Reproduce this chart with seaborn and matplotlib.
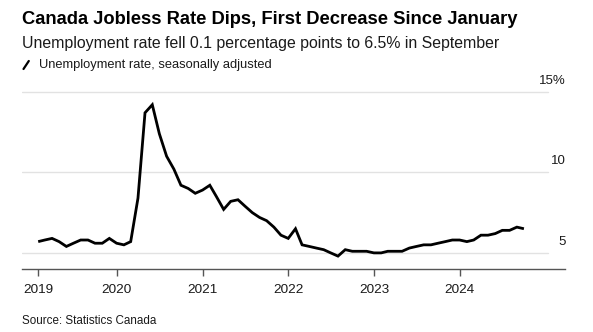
import numpy as np
import pandas as pd
import matplotlib
matplotlib.use("Agg")
import matplotlib.pyplot as plt
import matplotlib.transforms as mtransforms
from matplotlib.lines import Line2D
import seaborn as sns

# ---- data ----
rate_2019 = [5.7, 5.8, 5.9, 5.7, 5.4, 5.6, 5.8, 5.8, 5.6, 5.6, 5.9, 5.6]
rate_2020 = [5.5, 5.7, 8.4, 13.7, 14.2, 12.4, 11.0, 10.2, 9.2, 9.0, 8.7, 8.9]
rate_2021 = [9.2, 8.5, 7.7, 8.2, 8.3, 7.9, 7.5, 7.2, 7.0, 6.6, 6.1, 5.9]
rate_2022 = [6.5, 5.5, 5.4, 5.3, 5.2, 5.0, 4.8, 5.2, 5.1, 5.1, 5.1, 5.0]
rate_2023 = [5.0, 5.1, 5.1, 5.1, 5.3, 5.4, 5.5, 5.5, 5.6, 5.7, 5.8, 5.8]
rate_2024 = [5.7, 5.8, 6.1, 6.1, 6.2, 6.4, 6.4, 6.6, 6.5]
start_month = "2019-01"
year_labels = ["2019", "2020", "2021", "2022", "2023", "2024"]
y_ticks = [5, 10, 15]
y_tick_labels = ["5", "10", "15%"]

title = "Canada Jobless Rate Dips, First Decrease Since January"
subtitle = "Unemployment rate fell 0.1 percentage points to 6.5% in September"
legend_label = "Unemployment rate, seasonally adjusted"
source = "Source: Statistics Canada"

values = rate_2019 + rate_2020 + rate_2021 + rate_2022 + rate_2023 + rate_2024
dates = pd.date_range(start=start_month, periods=len(values), freq="ME")
df = pd.DataFrame({"date": dates, "rate": values})

sns.set_theme(style="white")
plt.rcParams["font.family"] = ["Liberation Sans", "DejaVu Sans"]

W, H = 593, 332
fig = plt.figure(figsize=(W / 100, H / 100), dpi=100)
fig.patch.set_facecolor("white")

ax_left, ax_right = 22 / W, 565 / W
ax_bottom = (H - 269) / H
ax_top = (H - 87) / H
ax = fig.add_axes([ax_left, ax_bottom, ax_right - ax_left, ax_top - ax_bottom])

sns.lineplot(data=df, x="date", y="rate", ax=ax, color="black", linewidth=2.0,
             solid_joinstyle="miter", solid_capstyle="butt")

ax.set_ylim(4.0, 15.3)
ax.set_xlim(pd.Timestamp("2018-11-23"), pd.Timestamp("2025-03-24"))

# gridlines
for yt in y_ticks:
    ax.axhline(yt, xmin=0, xmax=0.968, color="#e2e2e2", linewidth=1.0, zorder=0)

# y labels on the right, above gridlines
trans = mtransforms.blended_transform_factory(ax.transAxes, ax.transData)
offset = mtransforms.ScaledTranslation(0, 5 / 100, fig.dpi_scale_trans)
for yt, lab in zip(y_ticks, y_tick_labels):
    ax.text(1.002, yt, lab, transform=trans + offset, ha="right", va="bottom",
            fontsize=9.5, color="#1a1a1a", clip_on=False)

ax.set_yticks([])
ax.set_ylabel("")
ax.set_xlabel("")

# x ticks
tick_dates = [dates[0]] + [pd.Timestamp(f"{y}-01-01") for y in range(2020, 2025)]
ax.set_xticks(tick_dates)
ax.set_xticklabels(year_labels, fontsize=9.7, color="#1a1a1a")
ax.tick_params(axis="x", direction="out", length=5, width=1, color="#555555",
               pad=6, bottom=True)

for side in ["top", "right", "left"]:
    ax.spines[side].set_visible(False)
ax.spines["bottom"].set_color("#555555")
ax.spines["bottom"].set_linewidth(1.0)

# header text
fig.text(22 / W, 1 - 19 / H, title, fontsize=13.2, fontweight="bold",
         ha="left", va="center", color="black")
fig.text(22 / W, 1 - 43.5 / H, subtitle, fontsize=11.4, ha="left", va="center",
         color="#1a1a1a")
fig.add_artist(Line2D([23.5 / W, 28.8 / W], [1 - 69 / H, 1 - 61 / H],
                      color="black", linewidth=1.6, transform=fig.transFigure))
fig.text(39 / W, 1 - 65 / H, legend_label, fontsize=9.3, ha="left", va="center",
         color="#1a1a1a")
fig.text(22 / W, 1 - 321 / H, source, fontsize=8.4, ha="left", va="center",
         color="#1a1a1a")

fig.savefig("out.png", dpi=100, facecolor="white")
